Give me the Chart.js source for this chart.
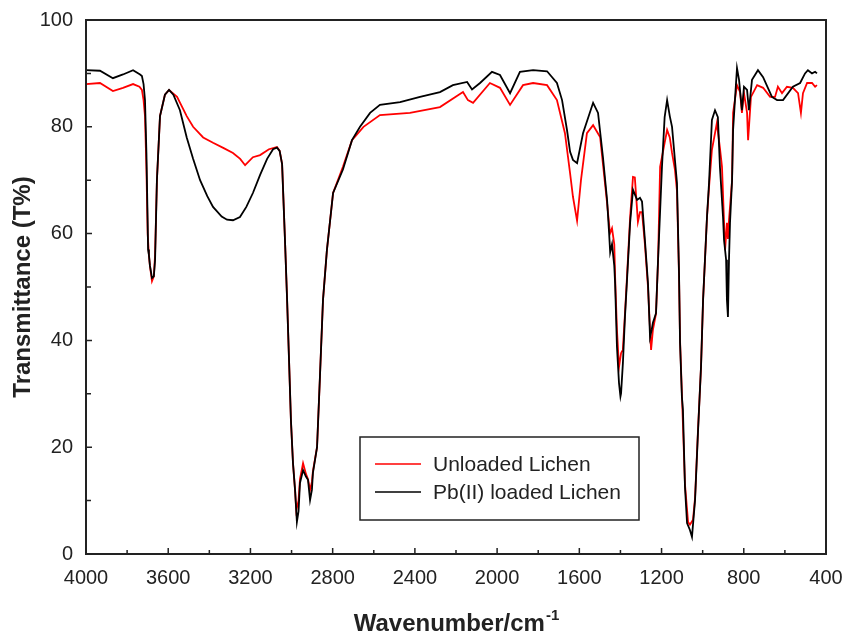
<html lang="en">
<head>
<meta charset="utf-8">
<script src="https://cdn.jsdelivr.net/npm/chart.js@4.4.1/dist/chart.umd.min.js"></script>
<style>
  body { margin: 0; background: #fff; }
</style>
</head>
<body>
<canvas id="ftir-chart" width="844" height="634"></canvas>
<script>
// wavenumber (cm-1) / transmittance (%)
var wnUnloaded = [4000, 3932, 3869, 3820, 3771, 3740, 3728, 3720, 3713, 3706, 3700, 3694, 3689, 3679, 3670, 3664, 3655, 3640, 3616, 3596,
  3557, 3510, 3479, 3430, 3382, 3330, 3285, 3250, 3226, 3188, 3153, 3110, 3071, 3058, 3046, 3032, 3022, 3012, 3003, 2993,
  2983, 2977, 2966, 2959, 2944, 2930, 2920, 2910, 2901, 2896, 2876, 2862, 2847, 2828, 2798, 2750, 2706, 2650, 2570, 2424,
  2278, 2166, 2142, 2117, 2035, 1986, 1937, 1874, 1825, 1757, 1709, 1670, 1645, 1631, 1611, 1592, 1563, 1533, 1499, 1465,
  1451, 1441, 1430, 1426, 1417, 1407, 1397, 1392, 1388, 1378, 1368, 1353, 1339, 1330, 1315, 1305, 1295, 1281, 1266, 1256,
  1251, 1242, 1227, 1217, 1207, 1185, 1173, 1160, 1149, 1135, 1125, 1115, 1110, 1101, 1086, 1071, 1062, 1047, 1037, 1023,
  1008, 998, 979, 969, 955, 931, 916, 906, 891, 882, 877, 872, 857, 852, 833, 818, 809, 799, 784, 779,
  765, 735, 706, 672, 648, 634, 614, 590, 561, 536, 522, 512, 492, 468, 453, 444];
var tUnloaded = [88.0, 88.2, 86.7, 87.3, 88.0, 87.5, 86.9, 85, 82, 72, 60, 56, 54, 51.1, 52, 56, 70, 82, 86, 86.9,
  85.6, 82, 80.0, 78, 77.0, 76, 75.1, 74, 72.8, 74.3, 74.7, 75.8, 76.2, 75.5, 73, 58.8, 48, 36, 25, 17,
  12, 8.2, 10, 14, 17.0, 15, 14, 12, 13.5, 15.5, 20, 33.1, 47.6, 56.9, 67.6, 72.5, 77.5, 80, 82.2, 82.6,
  83.7, 86.5, 85.0, 84.5, 88.2, 87.3, 84.1, 87.8, 88.2, 87.8, 85.0, 78.8, 71.3, 66.9, 62.4, 70, 78.8, 80.3, 78.1, 65.7,
  60, 61.0, 58, 52, 42, 35, 37.6, 38, 38.5, 45, 52, 63, 70.6, 70.5, 62.2, 64, 64, 58, 50, 42,
  38.2, 42, 45, 55, 72.5, 77, 79.4, 78, 75.1, 72, 68, 52, 40, 30, 13, 6.0, 5.5, 6.4, 10.5, 23,
  35, 47.6, 63, 68.7, 75.7, 80.7, 76, 72.5, 56.9, 62, 59, 62.5, 70, 82.6, 87.8, 86.5, 82.6, 86.3, 82.6, 77.5,
  85.6, 87.8, 87.3, 85.6, 85.6, 87.5, 86.3, 87.5, 87.3, 86.3, 82.6, 86.3, 88.2, 88.2, 87.5, 87.8];

var wnLoaded = [4000, 3932, 3869, 3820, 3771, 3737, 3728, 3720, 3713, 3706, 3700, 3698, 3694, 3689, 3679, 3670, 3664, 3655, 3640, 3616,
  3596, 3575, 3543, 3510, 3479, 3445, 3410, 3382, 3340, 3314, 3285, 3251, 3220, 3188, 3153, 3119, 3090, 3071, 3058, 3046,
  3032, 3022, 3012, 3003, 2993, 2983, 2974, 2966, 2959, 2944, 2930, 2920, 2910, 2901, 2896, 2876, 2862, 2847, 2828, 2798,
  2750, 2706, 2667, 2618, 2570, 2472, 2375, 2278, 2215, 2146, 2122, 2083, 2025, 1986, 1937, 1889, 1825, 1757, 1709, 1684,
  1660, 1645, 1631, 1611, 1582, 1533, 1509, 1485, 1465, 1455, 1450, 1441, 1430, 1426, 1417, 1407, 1400, 1397, 1388, 1378,
  1368, 1353, 1339, 1319, 1305, 1295, 1281, 1266, 1256, 1248, 1242, 1227, 1217, 1198, 1185, 1173, 1160, 1149, 1135, 1125,
  1115, 1110, 1101, 1096, 1086, 1076, 1062, 1052, 1037, 1023, 1008, 998, 979, 969, 955, 940, 926, 916, 901, 896,
  886, 882, 877, 872, 867, 857, 852, 843, 833, 823, 809, 799, 784, 775, 760, 731, 706, 663, 638, 609,
  561, 526, 502, 488, 468, 453, 444];
var tLoaded = [90.6, 90.5, 89.1, 89.8, 90.6, 89.8, 89.5, 88, 85, 75, 62, 57, 56, 54, 51.7, 52, 55, 70, 82, 86,
  86.9, 86, 83.1, 78, 74, 70, 67, 65, 63.2, 62.6, 62.5, 63.1, 65, 67.6, 71, 74, 75.8, 76.1, 75.5, 73,
  58.8, 48, 36, 25, 17, 12, 6.0, 8, 13.3, 15.7, 14.5, 13.9, 10.1, 12, 15.2, 20, 33.1, 47.6, 56.9, 67.6,
  72, 77.5, 80, 82.6, 84.1, 84.6, 85.6, 86.5, 87.8, 88.4, 87.0, 88.2, 90.3, 89.7, 86.3, 90.3, 90.6, 90.4, 88.2, 85,
  79.4, 75.3, 73.8, 73.2, 78.8, 84.5, 82.6, 74.3, 66.3, 60, 56.5, 58, 54, 50.7, 38.8, 32.0, 29.5, 30.1, 35.8, 44.4,
  51.3, 62.0, 68.2, 66.3, 66.7, 66, 58.8, 50.7, 40.6, 42, 43.3, 45.1, 55.1, 72.5, 81.8, 85.0, 82, 80.0, 73.8, 69.5,
  52.6, 39.5, 29.4, 27, 12.5, 5.8, 4.5, 3.2, 10.1, 22.6, 35.1, 47.6, 63.1, 69.5, 81.3, 83.1, 81.8, 72.5, 63.1, 58.8,
  55.1, 47.6, 44.4, 55, 62.0, 70.0, 79.4, 85.0, 91.0, 88.8, 83.1, 87.5, 86.9, 83.1, 88.8, 90.6, 89.3, 85.6, 85.0, 85.0,
  87.5, 88.2, 90.0, 90.6, 90.0, 90.3, 90.0];

var xTickLabels = [4000, 3600, 3200, 2800, 2400, 2000, 1600, 1200, 800, 400];
var yTickLabels = [0, 20, 40, 60, 80, 100];

var FONT = "'Liberation Sans', Arial, sans-serif";
var INK = '#222';

function toPoints(xs, ys) {
  return xs.map(function (x, i) { return { x: x, y: ys[i] }; });
}

// frame, inward ticks, axis titles and the boxed legend
var decorations = {
  id: 'decorations',
  afterDraw: function (chart) {
    var ctx = chart.ctx, a = chart.chartArea;
    var xs = chart.scales.x, ys = chart.scales.y;
    ctx.save();
    ctx.strokeStyle = INK;
    ctx.lineWidth = 2;
    ctx.strokeRect(a.left, a.top, a.right - a.left, a.bottom - a.top);

    ctx.lineWidth = 1.5;
    ctx.beginPath();
    for (var w = 400; w <= 4000; w += 200) {
      var px = xs.getPixelForValue(w);
      var len = (w % 400 === 0) ? 6 : 4;
      ctx.moveTo(px, a.bottom); ctx.lineTo(px, a.bottom - len);
    }
    for (var v = 0; v <= 100; v += 10) {
      var py = ys.getPixelForValue(v);
      var l2 = (v % 20 === 0) ? 6 : 5;
      ctx.moveTo(a.left, py); ctx.lineTo(a.left + l2, py);
    }
    ctx.stroke();

    // x title with superscript
    ctx.fillStyle = INK;
    ctx.textBaseline = 'alphabetic';
    var main = 'Wavenumber/cm';
    ctx.font = 'bold 15px ' + FONT;
    var supW = ctx.measureText('-1').width;
    ctx.font = 'bold 24px ' + FONT;
    var mainW = ctx.measureText(main).width;
    var cx = (a.left + a.right) / 2;
    var x0 = cx - (mainW + supW) / 2;
    ctx.textAlign = 'left';
    ctx.fillText(main, x0, 631);
    ctx.font = 'bold 15px ' + FONT;
    ctx.fillText('-1', x0 + mainW + 1, 620);

    // y title
    ctx.save();
    ctx.translate(30, (a.top + a.bottom) / 2);
    ctx.rotate(-Math.PI / 2);
    ctx.textAlign = 'center';
    ctx.font = 'bold 24px ' + FONT;
    ctx.fillText('Transmittance (T%)', 0, 0);
    ctx.restore();

    // legend
    ctx.fillStyle = '#fff';
    ctx.fillRect(360, 437, 279, 83);
    ctx.strokeStyle = INK;
    ctx.lineWidth = 1.5;
    ctx.strokeRect(360, 437, 279, 83);
    var items = [chart.data.datasets[1], chart.data.datasets[0]];
    ctx.font = '21px ' + FONT;
    ctx.textAlign = 'left';
    ctx.textBaseline = 'middle';
    items.forEach(function (ds, i) {
      var yy = 464 + i * 28;
      ctx.strokeStyle = ds.borderColor;
      ctx.lineWidth = 1.5;
      ctx.beginPath(); ctx.moveTo(375, yy); ctx.lineTo(421, yy); ctx.stroke();
      ctx.fillStyle = INK;
      ctx.fillText(ds.label, 433, yy + 1);
    });
    ctx.restore();
  }
};

new Chart(document.getElementById('ftir-chart'), {
  type: 'line',
  data: {
    datasets: [
      { label: 'Pb(II) loaded Lichen', data: toPoints(wnLoaded, tLoaded), borderColor: '#000000',
        borderWidth: 1.8, pointRadius: 0, tension: 0, fill: false, order: 0 },
      { label: 'Unloaded Lichen', data: toPoints(wnUnloaded, tUnloaded), borderColor: '#ff0000',
        borderWidth: 1.8, pointRadius: 0, tension: 0, fill: false, order: 1 }
    ]
  },
  options: {
    responsive: false,
    animation: false,
    layout: { padding: { left: 0, right: 18, top: 20, bottom: 0 } },
    plugins: { legend: { display: false }, tooltip: { enabled: false } },
    scales: {
      x: {
        type: 'linear', reverse: true, min: 400, max: 4000,
        afterBuildTicks: function (s) { s.ticks = xTickLabels.map(function (v) { return { value: v }; }); },
        ticks: { padding: 12, color: INK, font: { size: 20, family: FONT }, maxRotation: 0, autoSkip: false,
          callback: function (v) { return String(v); } },
        grid: { display: false, drawTicks: false, tickLength: 0 },
        border: { display: false },
        afterFit: function (s) { s.height = 80; s.paddingLeft = 0; s.paddingRight = 0; }
      },
      y: {
        min: 0, max: 100,
        afterBuildTicks: function (s) { s.ticks = yTickLabels.map(function (v) { return { value: v }; }); },
        ticks: { padding: 13, color: INK, font: { size: 20, family: FONT },
          callback: function (v) { return String(v); } },
        grid: { display: false, drawTicks: false, tickLength: 0 },
        border: { display: false },
        afterFit: function (s) { s.width = 86; s.paddingTop = 0; s.paddingBottom = 0; }
      }
    }
  },
  plugins: [decorations]
});
</script>
</body>
</html>
